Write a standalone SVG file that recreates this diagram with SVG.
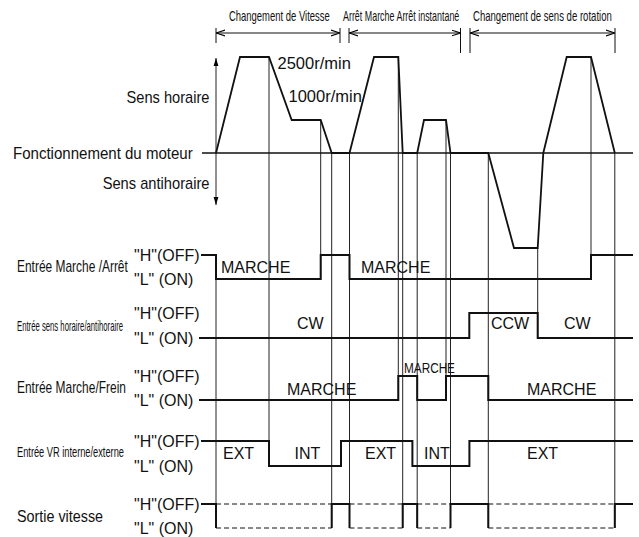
<svg xmlns="http://www.w3.org/2000/svg" width="639" height="537" viewBox="0 0 639 537">
<defs>
<marker id="open" viewBox="0 0 10 10" refX="10" refY="5" markerWidth="9" markerHeight="9" markerUnits="userSpaceOnUse" orient="auto-start-reverse">
<path d="M0,1.8 L10,5 L0,8.2" fill="none" stroke="#000" stroke-width="1.2"/>
</marker>
<marker id="solid" viewBox="0 0 10 10" refX="10" refY="5" markerWidth="8" markerHeight="8" markerUnits="userSpaceOnUse" orient="auto-start-reverse">
<path d="M0,2 L10,5 L0,8 z" fill="#000"/>
</marker>
</defs>
<style>
text { font-family: "Liberation Sans", Arial, Helvetica, sans-serif; fill: #111; }
.t16 { font-size: 16px; }
.t165 { font-size: 16.5px; }
.t15 { font-size: 15px; }
.t14 { font-size: 14px; }
.sig { fill: none; stroke: #111; stroke-width: 2; }
.ref { fill: none; stroke: #222; stroke-width: 1; }
.dash { fill: none; stroke: #111; stroke-width: 1; stroke-dasharray: 5 3; }
.brk { fill: none; stroke: #111; stroke-width: 1; }
.motor { fill: none; stroke: #111; stroke-width: 1.8; stroke-linejoin: miter; }
</style>

<g id="phases">
<path class="brk" d="M216,28 V43 M340,28 V43 M349,28 V43 M460.5,28 V53 M470,28 V53 M615,28 V53"/>
<line class="brk" x1="216" y1="33" x2="340" y2="33" marker-start="url(#open)" marker-end="url(#open)"/>
<line class="brk" x1="349" y1="33" x2="460.5" y2="33" marker-start="url(#open)" marker-end="url(#open)"/>
<line class="brk" x1="470" y1="33" x2="615" y2="33" marker-start="url(#open)" marker-end="url(#open)"/>
<text class="t14" transform="translate(229,21) scale(0.676,1)">Changement de Vitesse</text>
<text class="t14" transform="translate(343,21) scale(0.637,1)">Arrêt Marche Arrêt instantané</text>
<text class="t14" transform="translate(473,21) scale(0.684,1)">Changement de sens de rotation</text>
</g>

<g id="guides">
<path class="ref" d="M216,255 V528 M269,57 V466 M320.7,120 V279 M331.7,153 V528 M349.5,153 V528 M398.3,57 V400 M402.7,153 V528 M417.2,153 V528 M446,120 V400 M450.5,153 V528 M488.3,153 V528 M537.7,248 V338 M591,57 V279 M614.8,153 V528"/>
</g>

<g id="motor">
<line class="ref" x1="216" y1="153" x2="216" y2="58" marker-end="url(#solid)"/>
<line class="ref" x1="216" y1="153" x2="216" y2="205" marker-end="url(#solid)"/>
<line x1="202" y1="153" x2="633" y2="153" stroke="#111" stroke-width="1.4"/>
<polyline class="motor" points="216,153 240,57 269,57 291.7,120 320.7,120 331.7,153 349.5,153 374,57 398.3,57 402.7,153 417.2,153 424,120 446,120 450.5,153 488.3,153 514,248 537.7,248 543.3,153 566.7,57 591,57 614.8,153"/>
<text class="t16" text-anchor="end" transform="translate(209.5,103) scale(0.915,1)">Sens horaire</text>
<text class="t16" transform="translate(13,159) scale(0.941,1)">Fonctionnement du moteur</text>
<text class="t16" text-anchor="end" transform="translate(209.5,189) scale(0.918,1)">Sens antihoraire</text>
<text class="t165" x="277.5" y="69">2500r/min</text>
<text class="t165" x="288.5" y="102">1000r/min</text>
</g>

<g id="marche-arret">
<text class="t16" transform="translate(17,272) scale(0.747,1)">Entrée Marche /Arrêt</text>
<text class="t16" x="134" y="261">"H"(OFF)</text>
<text class="t16" x="134" y="285">"L" (ON)</text>
<path class="sig" d="M201,255 H216 V279 H320.7 V255 H349.5 V279 H591 V255 H633"/>
<text class="t16" x="221" y="273">MARCHE</text>
<text class="t16" x="361" y="273">MARCHE</text>
</g>

<g id="sens">
<text class="t14" transform="translate(17,331) scale(0.552,1)">Entrée sens horaire/antihoraire</text>
<text class="t16" x="134" y="319">"H"(OFF)</text>
<text class="t16" x="134" y="344">"L" (ON)</text>
<path class="sig" d="M199,338 H469.3 V313 H537.7 V338 H633"/>
<text class="t16" x="297" y="329">CW</text>
<text class="t16" x="491" y="329">CCW</text>
<text class="t16" x="564" y="329">CW</text>
</g>

<g id="marche-frein">
<text class="t16" transform="translate(17,393) scale(0.748,1)">Entrée Marche/Frein</text>
<text class="t16" x="134" y="382">"H"(OFF)</text>
<text class="t16" x="134" y="406">"L" (ON)</text>
<path class="sig" d="M199,400 H398.3 V376 H417.2 V400 H446 V376 H488.3 V400 H633"/>
<text class="t16" x="287" y="395">MARCHE</text>
<text class="t15" transform="translate(404,373) scale(0.785,1)">MARCHE</text>
<text class="t16" x="527" y="395">MARCHE</text>
</g>

<g id="vr">
<text class="t14" transform="translate(17,457) scale(0.661,1)">Entrée VR interne/externe</text>
<text class="t16" x="134" y="447">"H"(OFF)</text>
<text class="t16" x="134" y="472">"L" (ON)</text>
<path class="sig" d="M201,441 H269 V466 H341 V441 H412.4 V466 H469.4 V441 H633"/>
<text class="t16" x="223" y="459">EXT</text>
<text class="t16" x="294.5" y="459">INT</text>
<text class="t16" x="365" y="459">EXT</text>
<text class="t16" x="424" y="459">INT</text>
<text class="t16" x="527" y="459">EXT</text>
</g>

<g id="sortie">
<text class="t16" transform="translate(17,522) scale(0.896,1)">Sortie vitesse</text>
<text class="t16" x="134" y="510">"H"(OFF)</text>
<text class="t16" x="134" y="534">"L" (ON)</text>
<path class="sig" d="M201,504 H216 V528 M331.7,528 V504 H349.5 V528 M402.7,528 V504 H417.2 V528 M450.5,528 V504 H488.3 V528 M614.8,528 V504 H633"/>
<path class="dash" d="M216,504 H331.7 M216,528 H331.7 M349.5,504 H402.7 M349.5,528 H402.7 M417.2,504 H450.5 M417.2,528 H450.5 M488.3,504 H614.8 M488.3,528 H614.8"/>
</g>
</svg>
